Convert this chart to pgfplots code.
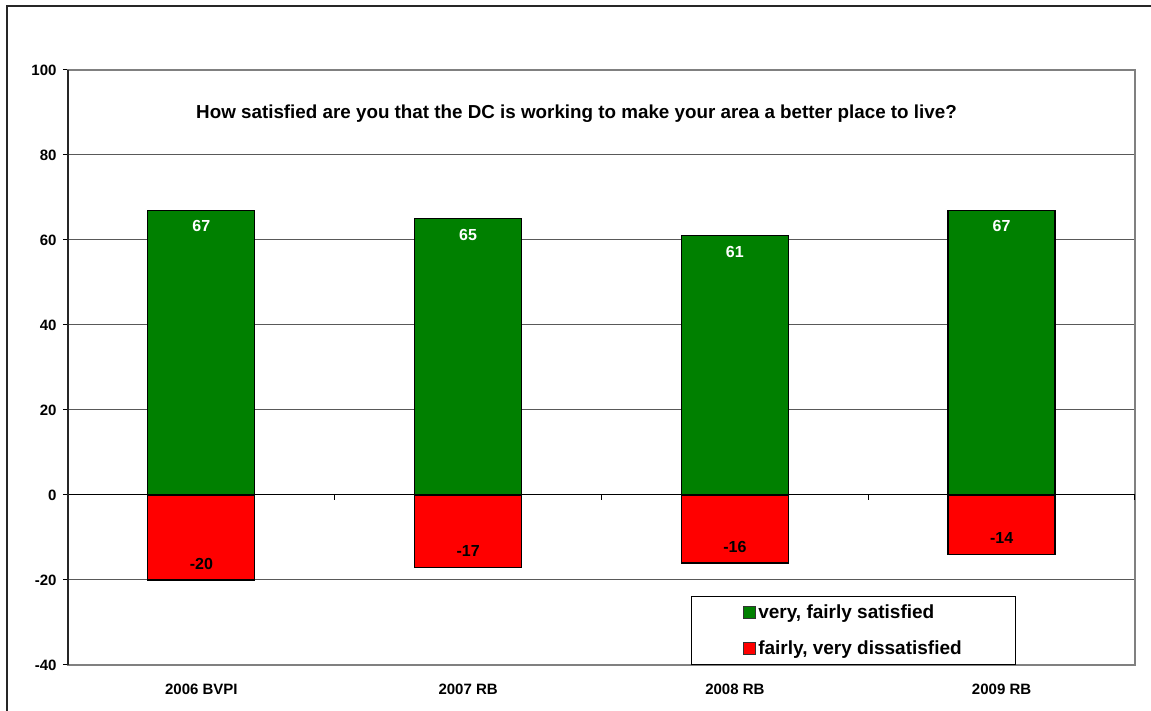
\documentclass[border=0pt]{standalone}
\usepackage{pgfplots}
\pgfplotsset{compat=1.18}
\usepackage{fontspec}
\setmainfont{Liberation Sans}
\definecolor{satgreen}{RGB}{0,128,0}
\definecolor{disred}{RGB}{255,0,0}

\begin{document}
\begin{tikzpicture}[x=1pt,y=1pt]
\useasboundingbox (0,0) rectangle (1151,711);
% outer chart frame
\draw[line width=1.2pt, black!85] (7,0) -- (7,705) -- (1151,705);
\begin{axis}[
  at={(68pt,46pt)}, anchor=south west,
  scale only axis, width=1067pt, height=595pt,
  xmin=-0.5, xmax=3.5, ymin=-40, ymax=100,
  ytick={-40,-20,0,20,40,60,80,100},
  xtick={0,1,2,3},
  xticklabels={2006 BVPI, 2007 RB, 2008 RB, 2009 RB},
  x tick style={draw=none},
  y tick style={black, line width=1pt},
  ytick pos=left,
  tick align=outside, major tick length=5pt,
  ymajorgrids, grid style={black!65, line width=1pt},
  axis line style={black!50, line width=1.5pt},
  /pgf/number format/assume math mode=true,
  ticklabel style={font=\bfseries\fontsize{15}{18}\selectfont},
  yticklabel style={xshift=-3pt},
  xticklabel style={yshift=-10pt},
  ybar, bar width=107pt, bar shift=0pt,
  clip=false,
  legend style={at={(0.5839,0.116)}, anchor=north west, draw=black, line width=1pt,
    font=\bfseries\fontsize{19}{22}\selectfont, inner xsep=52pt, inner ysep=6pt,
    row sep=17pt},
  legend cell align=left,
  legend image code/.code={\draw[#1, draw=black!80, line width=0.8pt] (0pt,-6pt) rectangle (12pt,6pt);},
]
\addplot[fill=satgreen, draw=black, line width=1.2pt,
  nodes near coords,
  every node near coord/.append style={anchor=center, yshift=-16pt, white,
    font=\bfseries\fontsize{16}{19}\selectfont}]
  coordinates {(0,67) (1,65) (2,61) (3,67)};
\addlegendentry{very, fairly satisfied}
\addplot[fill=disred, draw=black, line width=1.2pt,
  nodes near coords,
  every node near coord/.append style={anchor=center, yshift=16pt, black,
    font=\bfseries\fontsize{16}{19}\selectfont}]
  coordinates {(0,-20) (1,-17) (2,-16) (3,-14)};
\addlegendentry{fairly, very dissatisfied}
% zero line with category separators
\draw[black, line width=1pt] (axis cs:-0.5,0) -- (axis cs:3.5,0);
\pgfplotsinvokeforeach{0.5,1.5,2.5,3.5}{\draw[black, line width=1pt] (axis cs:#1,0) -- ++(0pt,-5pt);}
\draw[black!85, line width=1.5pt] (rel axis cs:0,0) -- (rel axis cs:0,1);
\node[font=\bfseries\fontsize{18.8}{22}\selectfont] at (rel axis cs:0.4766,0.926)
  {How satisfied are you that the DC is working to make your area a better place to live?};
\end{axis}
\end{tikzpicture}
\end{document}
